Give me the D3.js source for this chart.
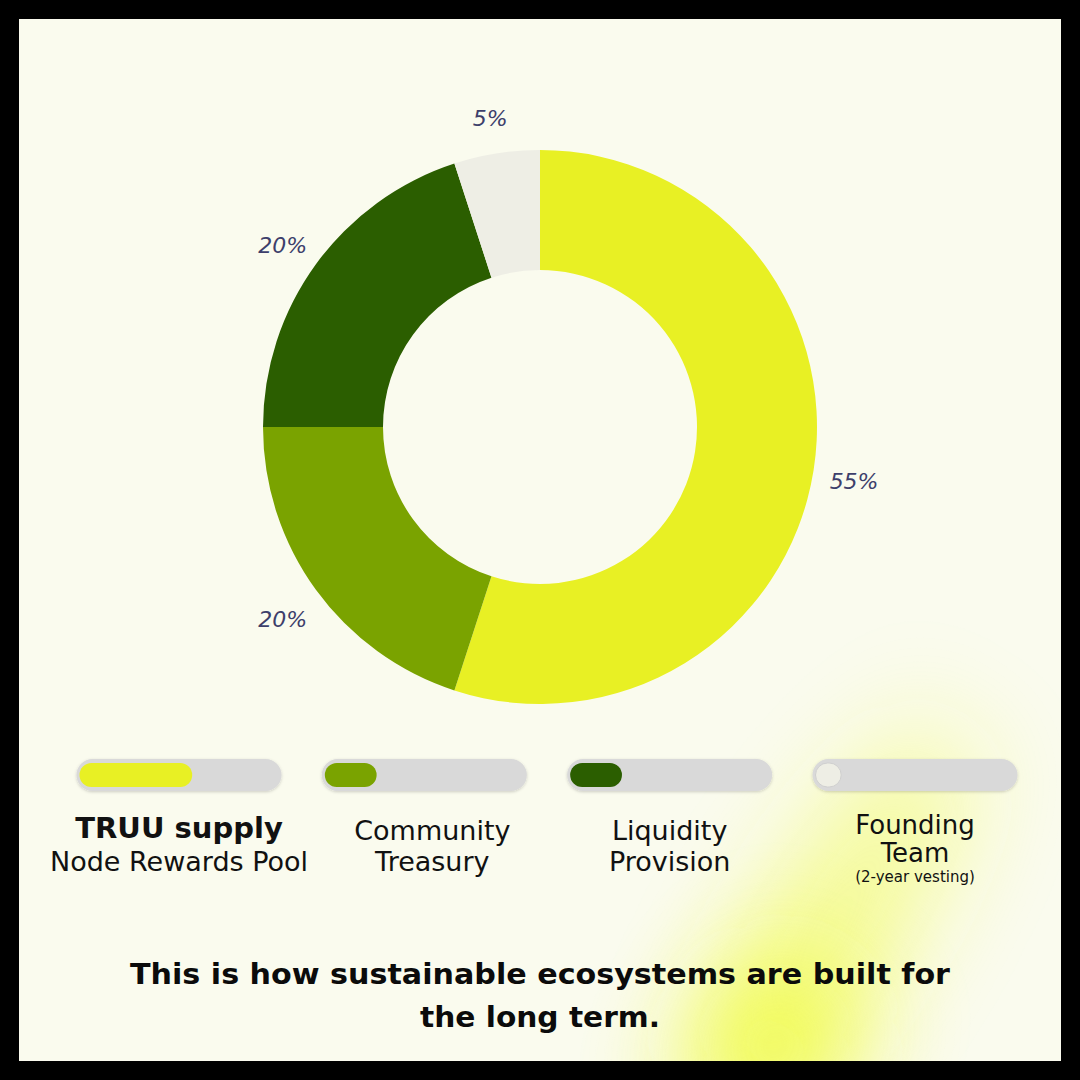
<!DOCTYPE html>
<html>
<head>
<meta charset="utf-8">
<script src="https://cdn.jsdelivr.net/npm/d3@7"></script>
<style>
  html, body { margin: 0; padding: 0; background: #000; }
  svg { display: block; }
</style>
</head>
<body>
<div id="chart"></div>
<script>
(function () {

  // data
  var categories = ["Node Rewards Pool", "Community Treasury", "Liquidity Provision", "Founding Team"];
  var shares = [55, 20, 20, 5];
  var pctLabels = ["55%", "20%", "20%", "5%"];
  var colors = ["#e8f024", "#7aa300", "#2b5e00", "#eeeee5"];
  var legendLines = [
    ["TRUU supply", "Node Rewards Pool"],
    ["Community", "Treasury"],
    ["Liquidity", "Provision"],
    ["Founding", "Team", "(2-year vesting)"]
  ];
  var footer = ["This is how sustainable ecosystems are built for", "the long term."];

  var W = 1080, H = 1080, frame = 19;

  var svg = d3.select("#chart")
    .append("svg")
    .attr("width", W)
    .attr("height", H);

  var defs = svg.append("defs");
  defs.append("filter")
    .attr("id", "glow")
    .attr("x", "-100%").attr("y", "-100%")
    .attr("width", "300%").attr("height", "300%")
    .append("feGaussianBlur")
    .attr("stdDeviation", 55);

  var shadow = defs.append("filter")
    .attr("id", "shade")
    .attr("x", "-20%").attr("y", "-50%")
    .attr("width", "140%").attr("height", "200%");
  shadow.append("feDropShadow")
    .attr("dx", 0).attr("dy", 1)
    .attr("stdDeviation", 1.5)
    .attr("flood-color", "#000")
    .attr("flood-opacity", 0.18);

  defs.append("clipPath").attr("id", "inner")
    .append("rect")
    .attr("x", frame).attr("y", frame)
    .attr("width", W - 2 * frame).attr("height", H - 2 * frame);

  //black frame + cream paper
  svg.append("rect").attr("width", W).attr("height", H).attr("fill", "#000");
  var paper = svg.append("g").attr("clip-path", "url(#inner)");
  paper.append("rect")
    .attr("x", frame).attr("y", frame)
    .attr("width", W - 2 * frame).attr("height", H - 2 * frame)
    .attr("fill", "#fafbee");

  //yellow glow, bottom right
  paper.append("ellipse")
    .attr("rx", 60).attr("ry", 230)
    .attr("transform", "translate(830,930) rotate(32)")
    .attr("fill", "#eefb22")
    .attr("opacity", 0.5)
    .attr("filter", "url(#glow)");
  paper.append("ellipse")
    .attr("rx", 70).attr("ry", 90)
    .attr("transform", "translate(775,1045) rotate(32)")
    .attr("fill", "#eefb22")
    .attr("opacity", 0.75)
    .attr("filter", "url(#glow)");

  //donut
  var cx = 540, cy = 427;
  var pie = d3.pie().sort(null).value(function (d) { return d; });
  var arc = d3.arc().innerRadius(157).outerRadius(277);
  var labelArc = d3.arc().innerRadius(318).outerRadius(318);
  var slices = pie(shares);

  var donut = svg.append("g").attr("transform", "translate(" + cx + "," + cy + ")");
  donut.selectAll(".slice")
    .data(slices)
    .enter().append("path")
    .attr("class", "slice")
    .attr("d", arc)
    .attr("fill", function (d, i) { return colors[i]; });

  donut.selectAll(".pct")
    .data(slices)
    .enter().append("text")
    .attr("class", "pct")
    .attr("x", function (d) { return labelArc.centroid(d)[0]; })
    .attr("y", function (d) { return labelArc.centroid(d)[1] + 5; })
    .attr("dy", "0.35em")
    .attr("text-anchor", "middle")
    .attr("font-family", "'DejaVu Sans', sans-serif")
    .attr("font-style", "italic")
    .attr("font-size", 22)
    .attr("fill", "#3d3f6b")
    .text(function (d, i) { return pctLabels[i]; });

  //legend tracks
  var xLegend = d3.scalePoint().domain(categories).range([179, 915]);
  var fillScale = d3.scaleLinear().domain([0, 100]).range([17, 191]);
  var trackW = 205, trackH = 32, fillH = 24, trackY = 759;

  var items = svg.selectAll(".item")
    .data(categories)
    .enter().append("g")
    .attr("class", "item")
    .attr("transform", function (d) { return "translate(" + xLegend(d) + ",0)"; });

  items.append("rect")
    .attr("x", -trackW / 2)
    .attr("y", trackY)
    .attr("width", trackW)
    .attr("height", trackH)
    .attr("rx", trackH / 2)
    .attr("fill", "#d9d9d9")
    .attr("filter", "url(#shade)");

  items.append("rect")
    .attr("x", -trackW / 2 + 3)
    .attr("y", trackY + (trackH - fillH) / 2)
    .attr("width", function (d, i) { return fillScale(shares[i]); })
    .attr("height", fillH)
    .attr("rx", fillH / 2)
    .attr("fill", function (d, i) { return colors[i]; })
    .attr("stroke", function (d, i) { return i === 3 ? "#cfcfcf" : "none"; })
    .attr("stroke-width", 1);

  //legend labels
  items.each(function (d, i) {
    var g = d3.select(this);
    var lines = legendLines[i];
    lines.forEach(function (t, j) {
      var size = 27, weight = 400, y = 840 + j * 31;
      if (i === 0 && j === 0) { size = 29; weight = 700; y = 838; }
      if (i === 3) {
        y = [834, 862, 882][j];
        size = j === 2 ? 15 : 26;
      }
      g.append("text")
        .attr("x", i === 1 ? 8 : 0)
        .attr("y", y)
        .attr("text-anchor", "middle")
        .attr("font-family", "'DejaVu Sans', sans-serif")
        .attr("font-size", size)
        .attr("font-weight", weight)
        .attr("fill", "#111")
        .text(t);
    });
  });

  //footer
  var footerWidth = [820, 240];
  svg.selectAll(".footer")
    .data(footer)
    .enter().append("text")
    .attr("class", "footer")
    .attr("x", 540)
    .attr("y", function (d, i) { return 984 + i * 43; })
    .attr("text-anchor", "middle")
    .attr("font-family", "'DejaVu Sans', sans-serif")
    .attr("font-size", 29)
    .attr("font-weight", 700)
    .attr("textLength", function (d, i) { return footerWidth[i]; })
    .attr("lengthAdjust", "spacingAndGlyphs")
    .attr("fill", "#0b0b0b")
    .text(function (d) { return d; });

})();
</script>
</body>
</html>
